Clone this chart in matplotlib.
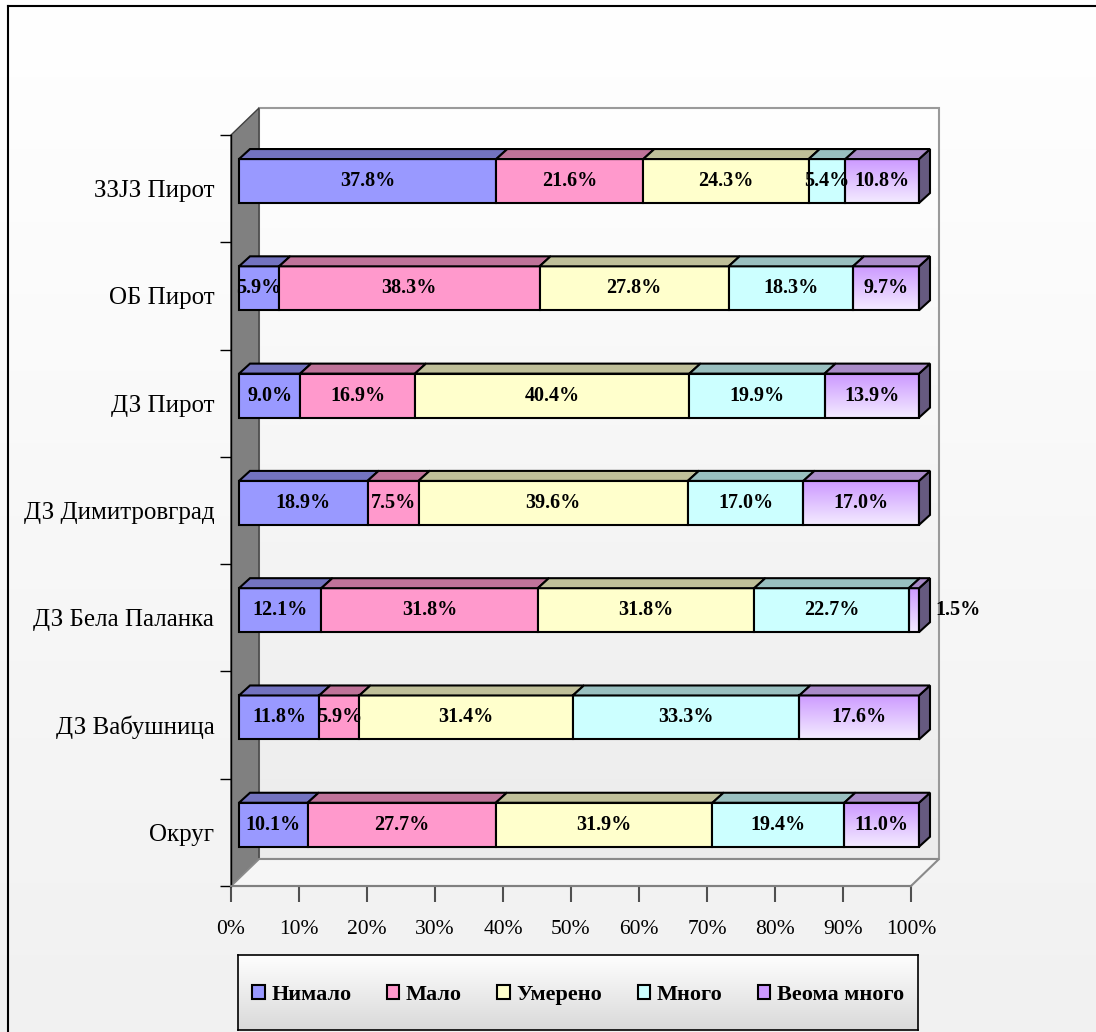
import numpy as np
import matplotlib.pyplot as plt
from matplotlib.patches import Polygon, Rectangle, Patch
from matplotlib.colors import LinearSegmentedColormap
from matplotlib.lines import Line2D

plt.rcParams['font.family'] = ['Liberation Serif', 'DejaVu Serif']

# DATA (bottom to top)
categories = ['Округ', 'ДЗ Вабушница', 'ДЗ Бела Паланка', 'ДЗ Димитровград',
              'ДЗ Пирот', 'ОБ Пирот', 'ЗЗЈЗ Пирот']
series = ['Нимало', 'Мало', 'Умерено', 'Много', 'Веома много']
nimalo = [10.1, 11.8, 12.1, 18.9, 9.0, 5.9, 37.8]
malo = [27.7, 5.9, 31.8, 7.5, 16.9, 38.3, 21.6]
umereno = [31.9, 31.4, 31.8, 39.6, 40.4, 27.8, 24.3]
mnogo = [19.4, 33.3, 22.7, 17.0, 19.9, 18.3, 5.4]
veoma = [11.0, 17.6, 1.5, 17.0, 13.9, 9.7, 10.8]
xticks = list(range(0, 101, 10))

values = [nimalo, malo, umereno, mnogo, veoma]
front_cols = ['#9999ff', '#ff99cc', '#ffffcc', '#ccffff', '#cc99ff']
top_cols = ['#7373c0', '#bf7399', '#bfbf99', '#99bfbf', '#a98bc8']
side_col = '#665a80'

W, Hpx = 1096, 1032
fig = plt.figure(figsize=(W / 100, Hpx / 100), dpi=100)

# figure background gradient + border
bg = fig.add_axes([0, 0, 1, 1], zorder=-10)
grad = np.linspace(0, 1, 256).reshape(-1, 1)
bg.imshow(grad, extent=[0, 1, 0, 1], aspect='auto', origin='upper',
          cmap=LinearSegmentedColormap.from_list('bg', ['#ffffff', '#f1f1f1']))
bg.set_xlim(0, 1)
bg.set_ylim(0, 1)
bg.axis('off')
bg.add_line(Line2D([8 / W, 8 / W], [0, 1 - 6 / Hpx], color='black', lw=1.5))
bg.add_line(Line2D([8 / W, 1], [1 - 6 / Hpx, 1 - 6 / Hpx], color='black', lw=1.5))

# main axes: front plane 0..100% x, categories in y
ax = fig.add_axes([231 / W, (Hpx - 886) / Hpx, 680 / W, 751 / Hpx])
ax.set_facecolor('none')
ax.set_xlim(0, 100)
ax.set_ylim(-0.5, len(categories) - 0.5)
sx = 100 / 680
sy = len(categories) / 751

# 3D geometry (data units)
DX, DY = 28 * sx, 27 * sy      # full depth
BX, BY = 8 * sx, 7.6 * sy      # bar front face offset
TX, TY = 11 * sx, 10 * sy      # bar depth
BH = 44 * sy                   # bar height
n = len(categories)

# back wall
wall_cmap = LinearSegmentedColormap.from_list('wall', ['#ffffff', '#ececec'])
ax.imshow(grad, extent=[DX, 100 + DX, -0.5 + DY, n - 0.5 + DY], aspect='auto',
          origin='upper', cmap=wall_cmap, clip_on=False, zorder=0)
ax.add_patch(Rectangle((DX, -0.5 + DY), 100, n, fc='none', ec='#9a9a9a', lw=1.5,
                       clip_on=False, zorder=1))
# left wall
ax.add_patch(Polygon([(0, -0.5), (0, n - 0.5), (DX, n - 0.5 + DY), (DX, -0.5 + DY)],
                     closed=True, fc='#808080', ec='#404040', lw=1, clip_on=False, zorder=1))
# floor
ax.add_patch(Polygon([(0, -0.5), (100, -0.5), (100 + DX, -0.5 + DY), (DX, -0.5 + DY)],
                     closed=True, fc='#f6f6f6', ec='#8a8a8a', lw=1.5, clip_on=False, zorder=1))

veoma_cmap = LinearSegmentedColormap.from_list('veoma', ['#cc99ff', '#f4ecff'])

for i in range(n):
    tot = sum(v[i] for v in values)
    left = 0.0
    yb = i + BY - BH / 2
    yt = i + BY + BH / 2
    for j, vals in enumerate(values):
        w = vals[i] / tot * 100
        x0 = BX + left
        if j == len(values) - 1:
            ax.imshow(grad, extent=[x0, x0 + w, yb, yt], aspect='auto', origin='upper',
                      cmap=veoma_cmap, clip_on=False, zorder=3)
            ax.add_patch(Rectangle((x0, yb), w, BH, fc='none', ec='black', lw=1.5,
                                   clip_on=False, zorder=4))
            # right side face
            ax.add_patch(Polygon([(x0 + w, yb), (x0 + w, yt), (x0 + w + TX, yt + TY),
                                  (x0 + w + TX, yb + TY)], closed=True, fc=side_col,
                                 ec='black', lw=1.5, clip_on=False, zorder=4))
        else:
            ax.add_patch(Rectangle((x0, yb), w, BH, fc=front_cols[j], ec='black', lw=1.5,
                                   clip_on=False, zorder=4))
        ax.add_patch(Polygon([(x0, yt), (x0 + w, yt), (x0 + w + TX, yt + TY), (x0 + TX, yt + TY)],
                             closed=True, fc=top_cols[j], ec='black', lw=1.5,
                             clip_on=False, zorder=4))
        if vals[i] < 3:
            ax.text(BX + 100 + TX + 0.8, i + BY, f'{vals[i]:.1f}%', ha='left', va='center',
                    fontsize=14.5, fontweight='bold', zorder=6)
        else:
            ax.text(x0 + w / 2, i + BY, f'{vals[i]:.1f}%', ha='center', va='center',
                    fontsize=14.5, fontweight='bold', zorder=6)
        left += w

# axes decoration
for s in ['top', 'right']:
    ax.spines[s].set_visible(False)
ax.spines['bottom'].set_color('#808080')
ax.spines['bottom'].set_linewidth(1.5)
ax.spines['left'].set_color('black')
ax.spines['left'].set_linewidth(1)
ax.spines['left'].set_zorder(2)

ax.set_xticks(xticks)
ax.set_xticklabels([f'{t}%' for t in xticks])
ax.tick_params(axis='x', direction='out', length=11.5, width=1.5, color='#505050',
               pad=13, labelsize=15.5)

ax.set_yticks(np.arange(-0.5, n, 1))
ax.set_yticklabels([])
ax.set_yticks(np.arange(n), minor=True)
ax.set_yticklabels(categories, minor=True)
ax.tick_params(axis='y', which='major', direction='out', length=8, width=1, color='black')
ax.tick_params(axis='y', which='minor', length=0, pad=12, labelsize=18)

# legend box
lg = fig.add_axes([238 / W, 1 - 1030 / Hpx, 680 / W, 75 / Hpx], zorder=-5)
lg.imshow(grad, extent=[0, 1, 0, 1], aspect='auto', origin='upper',
          cmap=LinearSegmentedColormap.from_list('lg', ['#ffffff', '#d9d9d9']))
lg.set_xticks([])
lg.set_yticks([])
for s in lg.spines.values():
    s.set_color('black')
    s.set_linewidth(1.2)

handles = [Patch(fc=front_cols[j], ec='black', lw=1.5) for j in range(len(series))]
fig.legend(handles, series, loc='center', bbox_to_anchor=(578 / W, 1 - 995 / Hpx),
           ncol=5, frameon=False, prop={'weight': 'bold', 'size': 16},
           handlelength=0.55, handleheight=0.55, handletextpad=0.3, columnspacing=1.6)

fig.savefig('out.png', dpi=100)
